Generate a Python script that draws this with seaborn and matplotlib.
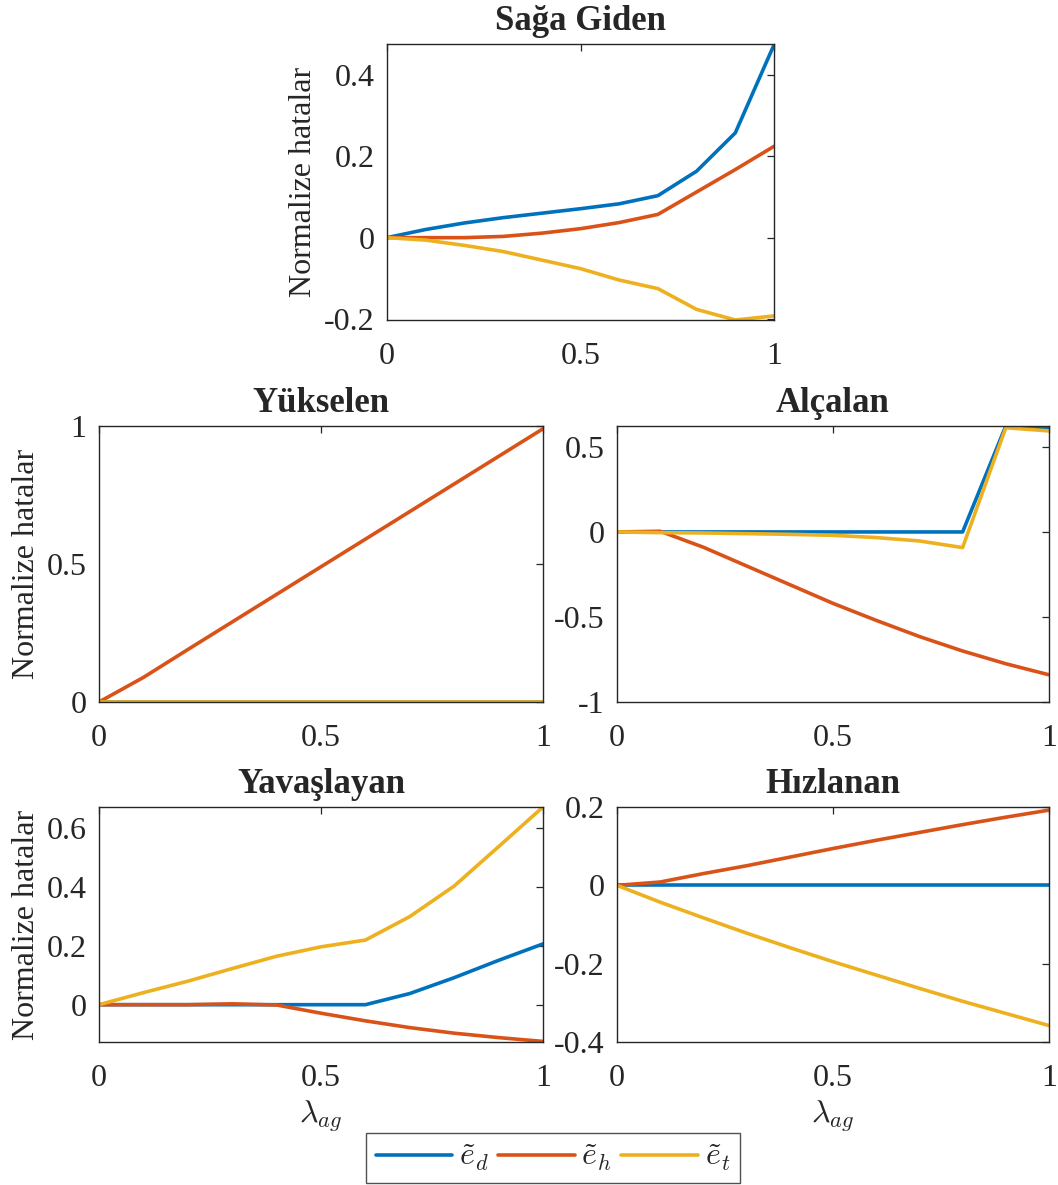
import numpy as np
import pandas as pd
import matplotlib
matplotlib.use("Agg")
import matplotlib.pyplot as plt
import seaborn as sns

# Aggressiveness parameter λ_ag
lam = [0.0, 0.1, 0.2, 0.3, 0.4, 0.5, 0.6, 0.7, 0.8, 0.9, 1.0]

# Sağa Giden
saga_ed = [0.0, 0.020, 0.036, 0.049, 0.060, 0.071, 0.083, 0.103, 0.163, 0.257, 0.473]
saga_eh = [0.0, 0.000, 0.000, 0.003, 0.011, 0.022, 0.037, 0.057, 0.112, 0.167, 0.224]
saga_et = [0.0, -0.006, -0.019, -0.034, -0.055, -0.076, -0.104, -0.125, -0.176, -0.202, -0.192]

# Yükselen
yuk_ed = [0.0] * 11
yuk_eh = [0.0, 0.089, 0.19, 0.29, 0.39, 0.49, 0.59, 0.69, 0.79, 0.89, 0.99]
yuk_et = [0.0] * 11

# Alçalan
alc_ed = [0.0, 0.0, 0.0, 0.0, 0.0, 0.0, 0.0, 0.0, 0.0, 0.623, 0.613]
alc_eh = [0.0, 0.004, -0.09, -0.20, -0.31, -0.42, -0.52, -0.615, -0.70, -0.775, -0.84]
alc_et = [0.0, -0.004, -0.006, -0.010, -0.014, -0.020, -0.033, -0.053, -0.092, 0.613, 0.594]

# Yavaşlayan
yav_ed = [0.0, 0.0, 0.0, 0.0, 0.0, 0.0, 0.0, 0.038, 0.092, 0.151, 0.207]
yav_eh = [0.0, 0.0, 0.0, 0.003, -0.001, -0.029, -0.055, -0.078, -0.097, -0.112, -0.125]
yav_et = [0.0, 0.041, 0.08, 0.123, 0.165, 0.197, 0.22, 0.30, 0.404, 0.538, 0.673]

# Hızlanan
hiz_ed = [0.0] * 11
hiz_eh = [0.0, 0.0085, 0.03, 0.05, 0.072, 0.094, 0.115, 0.135, 0.155, 0.174, 0.192]
hiz_et = [0.0, -0.043, -0.083, -0.122, -0.159, -0.195, -0.229, -0.263, -0.296, -0.327, -0.358]

series_labels = [r"$\tilde{e}_d$", r"$\tilde{e}_h$", r"$\tilde{e}_t$"]
colors = ["#0072BD", "#D95319", "#EDB120"]

panels = [
    ("Sağa Giden", (saga_ed, saga_eh, saga_et), (-0.202, 0.475), [-0.2, 0, 0.2, 0.4]),
    ("Yükselen", (yuk_ed, yuk_eh, yuk_et), (0.0, 1.0), [0, 0.5, 1]),
    ("Alçalan", (alc_ed, alc_eh, alc_et), (-1.0, 0.623), [-1, -0.5, 0, 0.5]),
    ("Yavaşlayan", (yav_ed, yav_eh, yav_et), (-0.127, 0.673), [0, 0.2, 0.4, 0.6]),
    ("Hızlanan", (hiz_ed, hiz_eh, hiz_et), (-0.4, 0.2), [-0.4, -0.2, 0, 0.2]),
]

sns.set_theme(style="white")
plt.rcParams["font.family"] = ["Liberation Serif", "DejaVu Serif"]
plt.rcParams["mathtext.fontset"] = "cm"
plt.rcParams["axes.unicode_minus"] = False

W, H = 1058, 1185
fig = plt.figure(figsize=(W / 100, H / 100), dpi=100)


def box(l, t, r, b):
    return [l / W, (H - b) / H, (r - l) / W, (b - t) / H]


boxes = [
    box(387, 44, 774, 320),
    box(99, 426, 543, 702),
    box(617, 426, 1049, 702),
    box(99, 807, 543, 1042),
    box(617, 807, 1049, 1042),
]

tick_fs = 23
label_fs = 23
title_fs = 25
axis_color = "#262626"


def fmt(v):
    return f"{v:g}"


for i, (title, ys, ylim, yticks) in enumerate(panels):
    ax = fig.add_axes(boxes[i])
    for y, c, lab in zip(ys, colors, series_labels):
        df = pd.DataFrame({"lam": lam, "val": y})
        sns.lineplot(data=df, x="lam", y="val", color=c, linewidth=2.6,
                     ax=ax, label=lab, legend=False)
    ax.set_xlim(0, 1)
    ax.set_ylim(*ylim)
    ax.set_xticks([0, 0.5, 1])
    ax.set_xticklabels([fmt(v) for v in [0, 0.5, 1]])
    ax.set_yticks(yticks)
    ax.set_yticklabels([fmt(v) for v in yticks])
    ax.tick_params(direction="in", length=5, width=0.9, colors=axis_color,
                   labelsize=tick_fs, top=True, right=True,
                   labelcolor="#262626")
    ax.tick_params(axis="x", pad=16)
    ax.tick_params(axis="y", pad=9)
    for sp in ax.spines.values():
        sp.set_visible(True)
        sp.set_color(axis_color)
        sp.set_linewidth(1.0)
    ax.set_title(title, fontsize=title_fs, fontweight="bold", pad=10)
    ax.set_xlabel("")
    if i in (0, 1, 3):
        ax.set_ylabel("Normalize hatalar", fontsize=label_fs, color="#262626")
    else:
        ax.set_ylabel("")
    if i in (3, 4):
        ax.set_xlabel(r"$\lambda_{ag}$", fontsize=label_fs, color="#262626",
                      labelpad=4)
    if i == 4:
        handles, labels = ax.get_legend_handles_labels()

leg = fig.legend(handles, labels, loc="center", ncol=3,
                 bbox_to_anchor=(553 / W, 1 - 1158 / H),
                 fontsize=23, frameon=True, fancybox=False,
                 handlelength=2.4, handletextpad=0.2, columnspacing=0.3,
                 borderpad=0.3)
leg.get_frame().set_edgecolor(axis_color)
leg.get_frame().set_linewidth(1.0)

fig.savefig("out.png", dpi=100, facecolor="white")
